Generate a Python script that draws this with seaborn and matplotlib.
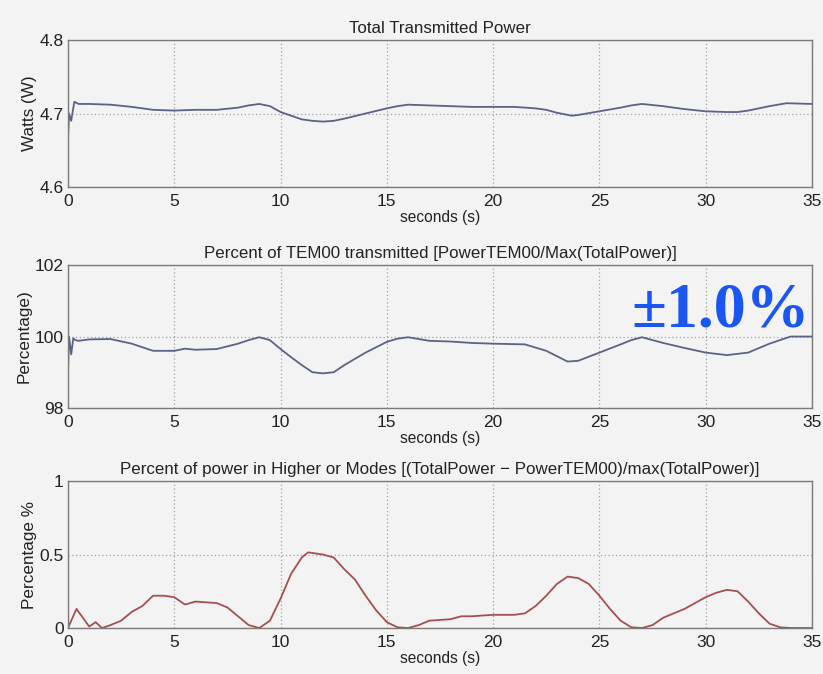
import numpy as np
import pandas as pd
import matplotlib
matplotlib.use("Agg")
import matplotlib.pyplot as plt
import seaborn as sns

# ---- data ----
t_power = [0.0, 0.05, 0.15, 0.3, 0.5, 1, 2, 3, 3.5, 4, 5, 6, 7, 8, 8.5, 9, 9.5, 10, 10.5, 11, 11.5,
           12, 12.5, 13, 14, 15, 15.5, 16, 17, 18, 19, 20, 21, 22, 22.5, 23, 23.7, 24, 25, 26, 26.5,
           27, 28, 29, 30, 31, 31.5, 32, 33, 33.8, 35]
watts = [4.667, 4.70, 4.69, 4.716, 4.713, 4.713, 4.712, 4.709, 4.707, 4.705, 4.704, 4.705, 4.705,
         4.708, 4.711, 4.713, 4.710, 4.702, 4.697, 4.692, 4.690, 4.689, 4.690, 4.693, 4.700, 4.707,
         4.710, 4.712, 4.711, 4.710, 4.709, 4.709, 4.709, 4.707, 4.705, 4.701, 4.697, 4.698, 4.703,
         4.708, 4.711, 4.713, 4.710, 4.706, 4.703, 4.702, 4.702, 4.704, 4.710, 4.714, 4.713]

t_tem = [0.0, 0.05, 0.15, 0.25, 0.35, 0.5, 1, 2, 3, 4, 5, 5.5, 6, 7, 8, 8.5, 9, 9.5, 10, 10.5, 11,
         11.5, 12, 12.5, 13, 14, 15, 15.5, 16, 17, 18, 19, 20, 21.5, 22.5, 23, 23.5, 24, 25, 26,
         26.5, 27, 28, 29, 30, 31, 32, 33, 34, 35]
tem00 = [99.0, 100.0, 99.5, 99.95, 99.9, 99.88, 99.92, 99.93, 99.8, 99.6, 99.6, 99.66, 99.63, 99.65,
         99.8, 99.9, 99.98, 99.9, 99.65, 99.42, 99.2, 99.0, 98.97, 99.0, 99.2, 99.55, 99.85, 99.94,
         99.98, 99.88, 99.86, 99.82, 99.8, 99.78, 99.6, 99.45, 99.3, 99.32, 99.55, 99.78, 99.9,
         99.98, 99.82, 99.68, 99.55, 99.48, 99.55, 99.8, 100.0, 100.0]

t_hom = [0.0, 0.4, 0.8, 1.0, 1.3, 1.6, 2, 2.5, 3, 3.5, 4, 4.5, 5, 5.5, 6, 7, 7.5, 8, 8.5, 9, 9.5,
         10, 10.5, 11, 11.3, 12, 12.5, 13, 13.5, 14, 14.5, 15, 15.5, 16, 16.5, 17, 18, 18.5, 19, 20,
         21, 21.5, 22, 22.5, 23, 23.5, 24, 24.5, 25, 25.5, 26, 26.5, 27, 27.5, 28, 29, 30, 30.5, 31,
         31.5, 32, 32.5, 33, 33.5, 34, 35]
higher = [0.0, 0.13, 0.05, 0.01, 0.04, 0.0, 0.02, 0.05, 0.11, 0.15, 0.22, 0.22, 0.21, 0.16, 0.18,
          0.17, 0.14, 0.08, 0.02, 0.0, 0.05, 0.2, 0.37, 0.48, 0.515, 0.50, 0.48, 0.40, 0.33, 0.22,
          0.12, 0.04, 0.005, 0.0, 0.02, 0.05, 0.06, 0.08, 0.08, 0.09, 0.09, 0.10, 0.15, 0.22, 0.30,
          0.35, 0.34, 0.30, 0.22, 0.13, 0.05, 0.005, 0.0, 0.02, 0.07, 0.13, 0.21, 0.24, 0.26, 0.25,
          0.18, 0.10, 0.03, 0.005, 0.0, 0.0]

titles = ["Total Transmitted Power",
          "Percent of TEM00 transmitted [PowerTEM00/Max(TotalPower)]",
          "Percent of power in Higher or Modes [(TotalPower \u2212 PowerTEM00)/max(TotalPower)]"]
ylabels = ["Watts (W)", "Percentage)", "Percentage %"]
yticks = [[4.6, 4.7, 4.8], [98, 100, 102], [0, 0.5, 1]]
yticklabels = [["4.6", "4.7", "4.8"], ["98", "100", "102"], ["0", "0.5", "1"]]
xticks = [0, 5, 10, 15, 20, 25, 30, 35]
annotation = "\u00b11.0%"

# ---- drawing ----
sns.set_style("white")
plt.rcParams['font.family'] = ['Liberation Sans', 'DejaVu Sans']
bg = "#f3f3f3"
fig = plt.figure(figsize=(8.23, 6.74), dpi=100, facecolor=bg)

boxes = [[0.0826, 0.7226, 0.904, 0.218],
         [0.0826, 0.3947, 0.904, 0.212],
         [0.0826, 0.0682, 0.904, 0.218]]
series = [(t_power, watts, "#5a6286"), (t_tem, tem00, "#5a6286"), (t_hom, higher, "#a4504f")]

for i, (box, (tx, ys, col)) in enumerate(zip(boxes, series)):
    ax = fig.add_axes(box)
    ax.set_facecolor(bg)
    df = pd.DataFrame({"t": tx, "v": ys})
    sns.lineplot(data=df, x="t", y="v", ax=ax, color=col, linewidth=1.3, estimator=None, sort=False)
    ax.set_xlim(0, 35)
    ax.set_ylim(yticks[i][0], yticks[i][-1])
    ax.set_xticks(xticks)
    ax.set_xticklabels([str(v) for v in xticks])
    ax.set_yticks(yticks[i])
    ax.set_yticklabels(yticklabels[i])
    ax.grid(True, linestyle=(0, (1, 2)), color="#a0a0a0", linewidth=0.9)
    for s in ax.spines.values():
        s.set_color("#7a7a7a")
        s.set_linewidth(1.0)
    ax.tick_params(axis="both", labelsize=12.5, colors="#222222", length=3, direction="in")
    ax.tick_params(axis="x", pad=5)
    ax.tick_params(axis="y", pad=3)
    ax.set_xlabel("seconds (s)", fontsize=11.2, color="#222222", labelpad=1)
    ax.set_ylabel(ylabels[i], fontsize=12.3, color="#222222", labelpad=2)
    ax.set_title(titles[i], fontsize=12.2, color="#222222", pad=5)
    if i == 1:
        ax.text(0.997, 0.57, annotation, transform=ax.transAxes, ha="right", va="baseline",
                fontsize=46, fontweight="bold", color="#1a56f5",
                family=["Liberation Serif", "DejaVu Serif"])

fig.savefig("out.png", dpi=100, facecolor=bg)
